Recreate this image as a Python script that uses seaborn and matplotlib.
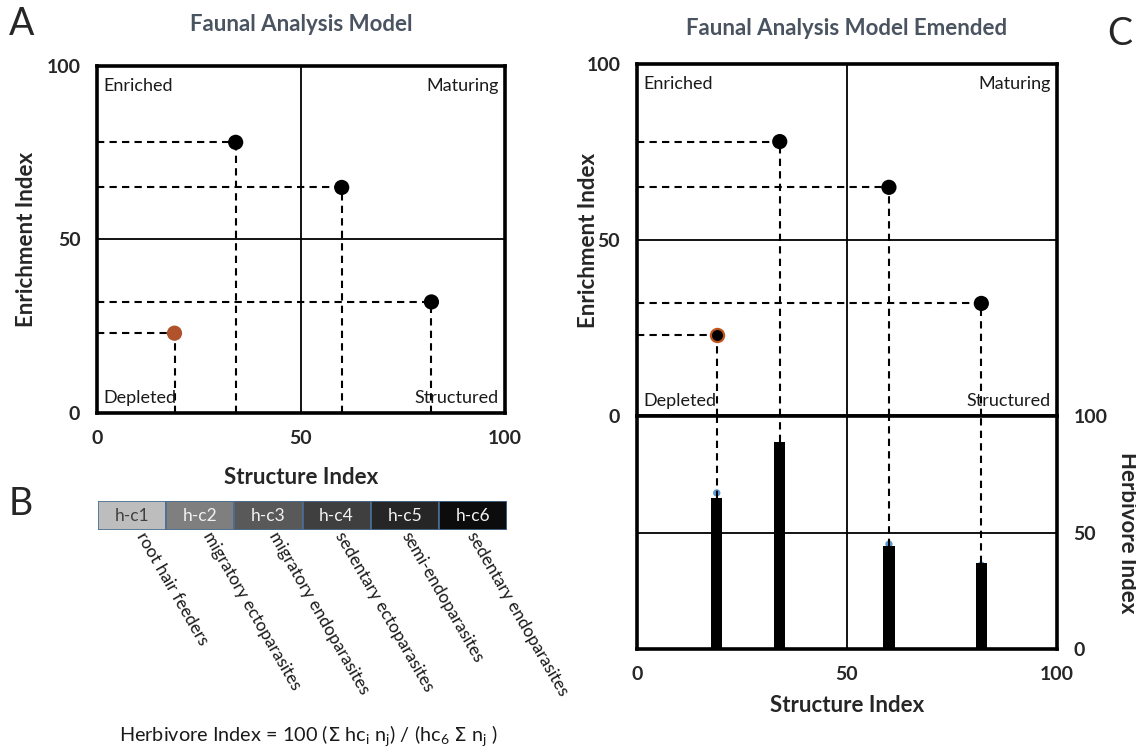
import numpy as np
import pandas as pd
import matplotlib.pyplot as plt
import seaborn as sns

# data
structure = [19, 34, 60, 82]
enrichment = [23, 78, 65, 32]
point_kind = ['low', 'high', 'high', 'high']
herbivore = [65, 89, 44, 37]
herb_dot = [67, 84, 45, 36]

classes = ['h-c1', 'h-c2', 'h-c3', 'h-c4', 'h-c5', 'h-c6']
class_colors = ['#bdbdbd', '#7f7f7f', '#595959', '#3f3f3f', '#262626', '#0c0c0c']
class_text = ['#404040', '#f2f2f2', '#f2f2f2', '#f2f2f2', '#f2f2f2', '#f2f2f2']
feeding = ['root hair feeders', 'migratory ectoparasites', 'migratory endoparasites',
           'sedentary ectoparasites', 'semi-endoparasites', 'sedentary endoparasites']

quadrants = ['Enriched', 'Maturing', 'Depleted', 'Structured']

df = pd.DataFrame({'SI': structure, 'EI': enrichment, 'kind': point_kind, 'HI': herbivore})

sns.set_theme(style='white')
plt.rcParams['font.family'] = ['Lato', 'DejaVu Sans']

fig = plt.figure(figsize=(11.36, 7.55), dpi=100)

title_color = '#4a5360'
dash = (0, (3.5, 2.5))
tick_fs = 14
label_fs = 16


def faunal_box(ax, show_x=True):
    ax.set_xlim(0, 100)
    ax.set_ylim(0, 100)
    ax.axvline(50, color='black', lw=1.3, zorder=1)
    ax.axhline(50, color='black', lw=1.3, zorder=1)
    for s in ax.spines.values():
        s.set_visible(True)
        s.set_color('black')
        s.set_linewidth(2.6)
    ax.set_yticks([0, 50, 100])
    ax.set_xticks([0, 50, 100])
    ax.tick_params(length=0, labelsize=tick_fs, pad=12)
    for lab in ax.get_yticklabels() + ax.get_xticklabels():
        lab.set_fontweight('bold')
    if not show_x:
        ax.set_xticklabels([])
    ax.set_xlabel('')
    kw = dict(fontsize=13, color='#1a1a1a', transform=ax.transAxes)
    ax.text(0.015, 0.965, quadrants[0], ha='left', va='top', **kw)
    ax.text(0.985, 0.965, quadrants[1], ha='right', va='top', **kw)
    ax.text(0.015, 0.02, quadrants[2], ha='left', va='bottom', **kw)
    ax.text(0.985, 0.02, quadrants[3], ha='right', va='bottom', **kw)
    for x, y in zip(df['SI'], df['EI']):
        ax.plot([0, x], [y, y], color='black', lw=1.5, ls=dash, zorder=2)
        ax.plot([x, x], [0, y], color='black', lw=1.5, ls=dash, zorder=2)


# ---- Panel A ----
axA = fig.add_axes([0.0854, 0.453, 0.359, 0.4596])
faunal_box(axA)
sns.scatterplot(data=df, x='SI', y='EI', hue='kind', palette={'low': '#b0532c', 'high': 'black'},
                s=120, edgecolor='none', legend=False, ax=axA, zorder=3)
axA.set_xlabel('Structure Index', fontsize=label_fs, fontweight='bold')
axA.xaxis.set_label_coords(0.5, -0.155)
axA.set_ylabel('Enrichment Index', fontsize=label_fs, fontweight='bold')
axA.yaxis.set_label_coords(-0.148, 0.5)
axA.set_title('Faunal Analysis Model', fontsize=16, fontweight='bold', color=title_color, pad=25)

# ---- Panel C (top) ----
axC = fig.add_axes([0.5607, 0.449, 0.3697, 0.466])
faunal_box(axC, show_x=False)
sns.scatterplot(data=df[df['kind'] == 'high'], x='SI', y='EI', color='black',
                s=120, edgecolor='none', legend=False, ax=axC, zorder=3)
sns.scatterplot(data=df[df['kind'] == 'low'], x='SI', y='EI', color='black',
                s=90, edgecolor='#c0561f', linewidth=1.6, legend=False, ax=axC, zorder=3)
axC.set_xlabel('')
axC.set_ylabel('Enrichment Index', fontsize=label_fs, fontweight='bold')
axC.yaxis.set_label_coords(-0.09, 0.5)
axC.set_title('Faunal Analysis Model Emended', fontsize=16, fontweight='bold',
              color=title_color, pad=21)

# ---- Panel C (bottom) ----
axH = fig.add_axes([0.5607, 0.1404, 0.3697, 0.3086])
axH.set_xlim(0, 100)
axH.set_ylim(0, 100)
axH.axvline(50, color='black', lw=1.3, zorder=1)
axH.axhline(50, color='black', lw=1.3, zorder=1)
for s in axH.spines.values():
    s.set_visible(True)
    s.set_color('black')
    s.set_linewidth(2.6)
axH.scatter(structure, herb_dot, s=28, color='#5b9bd5', edgecolor='none', zorder=2)
axH.bar(structure, herbivore, width=2.7, color='black', edgecolor='black', linewidth=0, zorder=3)
for x, h in zip(structure, herbivore):
    axH.plot([x, x], [h, 100], color='black', lw=1.5, ls=dash, zorder=2)
axH.set_xticks([0, 50, 100])
axH.set_yticks([0, 50, 100])
axH.yaxis.tick_right()
axH.yaxis.set_label_position('right')
axH.tick_params(length=0, labelsize=tick_fs, pad=12)
for lab in axH.get_yticklabels() + axH.get_xticklabels():
    lab.set_fontweight('bold')
axH.set_xlabel('Structure Index', fontsize=label_fs, fontweight='bold', labelpad=9)
axH.set_ylabel('Herbivore Index', fontsize=label_fs, fontweight='bold', rotation=270, labelpad=22)

# ---- Panel B ----
axB = fig.add_axes([0.0863, 0.298, 0.360, 0.0384])
axB.bar(range(len(classes)), [1] * len(classes), width=1, color=class_colors,
        edgecolor='#4a6f93', linewidth=1.2, align='edge')
axB.set_xlim(0, len(classes))
axB.set_ylim(0, 1)
axB.axis('off')
for i, (c, tc) in enumerate(zip(classes, class_text)):
    axB.text(i + 0.5, 0.5, c, ha='center', va='center', fontsize=12.5, color=tc)
for i, lab in enumerate(feeding):
    axB.text(i * 0.97 + 0.52, -0.25, lab, rotation=-60, rotation_mode='anchor', ha='left',
             va='bottom', fontsize=12.5, color='#1a1a1a', clip_on=False)

fig.text(0.105, 0.024,
         r'Herbivore Index = 100 ($\Sigma$ hc$_\mathregular{i}$ n$_\mathregular{j}$) / '
         r'(hc$_\mathregular{6}$ $\Sigma$ n$_\mathregular{j}$ )',
         fontsize=14.3, color='#1a1a1a', ha='left', va='center')

# panel letters
fig.text(0.008, 0.968, 'A', fontsize=27, ha='left', va='center')
fig.text(0.008, 0.332, 'B', fontsize=27, ha='left', va='center')
fig.text(0.975, 0.955, 'C', fontsize=27, ha='left', va='center')

fig.savefig('out.png', dpi=100, facecolor='white')
